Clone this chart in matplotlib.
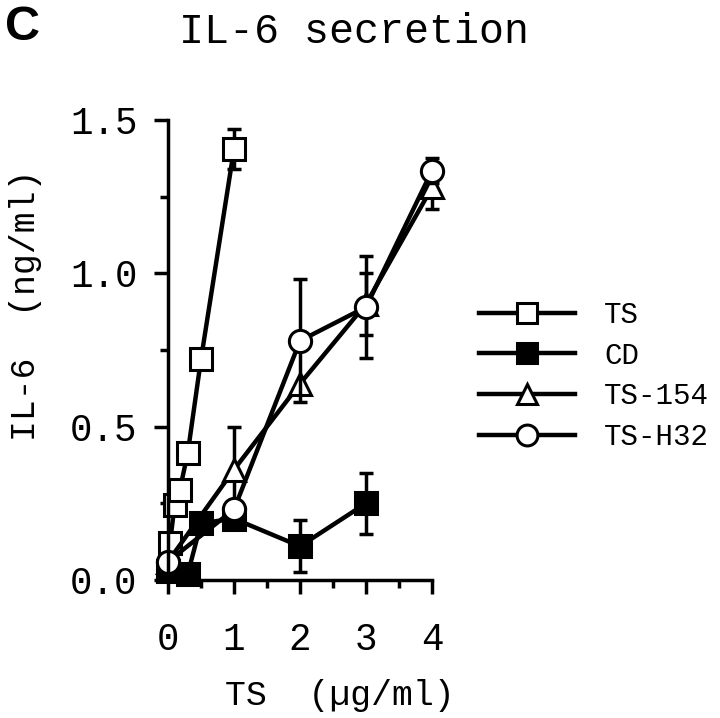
#!/usr/bin/env python
"""
IL-6 secretion, panel C
"""
import numpy as np
import matplotlib
matplotlib.use('Agg')
import matplotlib.pyplot as plt

# data
ts_x = [0.03, 0.1, 0.18, 0.3, 0.5, 1.0]
ts_y = [0.12, 0.245, 0.295, 0.415, 0.72, 1.405]
ts_e = [0.0, 0.0, 0.0, 0.0, 0.0, 0.065]

cd_x = [0.0, 0.3, 0.5, 1.0, 2.0, 3.0]
cd_y = [0.03, 0.02, 0.185, 0.2, 0.11, 0.25]
cd_e = [0.0, 0.0, 0.0, 0.0, 0.085, 0.1]

t154_x = [0.0, 1.0, 2.0, 3.0, 4.0]
t154_y = [0.06, 0.36, 0.64, 0.9, 1.28]
t154_e = [0.0, 0.14, 0.0, 0.1, 0.07]

h32_x = [0.0, 1.0, 2.0, 3.0, 4.0]
h32_y = [0.06, 0.23, 0.78, 0.89, 1.335]
h32_e = [0.0, 0.0, 0.2, 0.165, 0.04]

labels = ['TS', 'CD', 'TS-154', 'TS-H32']
mono = 'Liberation Mono'

fig = plt.figure(figsize=(7.2, 7.18), dpi=100)
ax = fig.add_axes([168 / 720, 1 - 580 / 718, 264 / 720, 460 / 718])

series = [
    (ts_x, ts_y, ts_e, 's', 'white'),
    (cd_x, cd_y, cd_e, 's', 'black'),
    (t154_x, t154_y, t154_e, '^', 'white'),
    (h32_x, h32_y, h32_e, 'o', 'white'),
]
handles = []
for (x, y, e, m, fc), lab in zip(series, labels):
    x = np.array(x); y = np.array(y); e = np.array(e)
    k = e > 0
    ax.errorbar(x[k], y[k], yerr=e[k], fmt='none', ecolor='black',
                elinewidth=2.5, capsize=5, capthick=2.5, clip_on=False)
    h, = ax.plot(x, y, '-', color='black', lw=3.2, marker=m, ms=16,
                 mfc=fc, mec='black', mew=2.2, clip_on=False, label=lab)
    handles.append(h)

ax.set_xlim(0, 4)
ax.set_ylim(0, 1.5)
ax.spines['top'].set_visible(False)
ax.spines['right'].set_visible(False)
for s in ('left', 'bottom'):
    ax.spines[s].set_linewidth(2.5)
ax.set_xticks([0, 1, 2, 3, 4])
ax.set_xticks(np.arange(0.5, 4, 1.0), minor=True)
ax.set_yticks([0.0, 0.5, 1.0, 1.5])
ax.set_yticks([0.25, 0.75, 1.25], minor=True)
ax.set_yticklabels(['0.0', '0.5', '1.0', '1.5'])
ax.tick_params(which='major', length=10, width=2.5, labelsize=27)
ax.tick_params(which='minor', length=6, width=2.5)
ax.tick_params(axis='x', pad=20)
ax.tick_params(axis='y', pad=12)
for t in ax.get_xticklabels() + ax.get_yticklabels():
    t.set_family(mono)

fig.text(354 / 720, 1 - 32 / 718, 'IL-6 secretion', family=mono,
         fontsize=30, ha='center', va='center')
fig.text(5 / 720, 1 - 28 / 718, 'C', family='Liberation Sans',
         fontweight='bold', fontsize=35, ha='left', va='center')
fig.text(26 / 720, 1 - 305 / 718, 'IL-6  (ng/ml)', family=mono,
         fontsize=25, rotation=90, ha='center', va='center')
fig.text(340 / 720, 1 - 695 / 718, 'TS  (µg/ml)', family=mono,
         fontsize=25, ha='center', va='center')

leg = fig.legend(handles=handles, labels=labels, loc='center left',
                 bbox_to_anchor=(464 / 720, 1 - 376 / 718), frameon=False,
                 prop={'family': mono, 'size': 21}, handlelength=3.3,
                 handletextpad=1.0, labelspacing=0.44, borderpad=0)
for h in leg.legend_handles:
    h.set_markersize(15)

fig.savefig('out.png', dpi=100)
